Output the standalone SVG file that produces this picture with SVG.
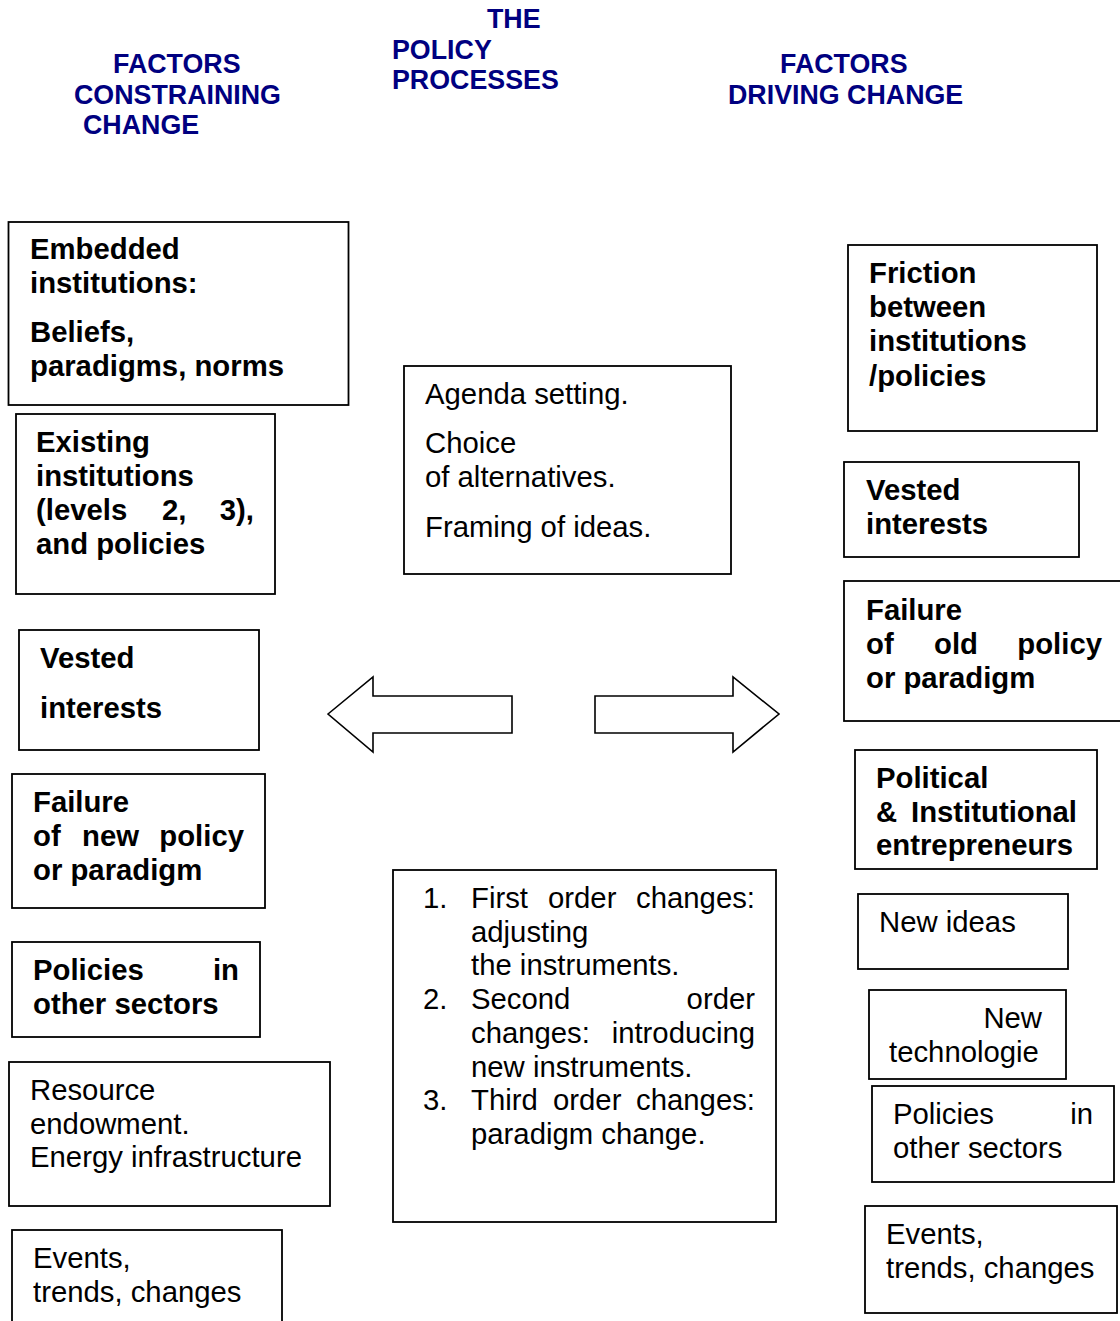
<svg xmlns="http://www.w3.org/2000/svg" width="1120" height="1321" viewBox="0 0 1120 1321">
<style>
.box{fill:#fff;stroke:#000;stroke-width:1.8}
.arr{fill:#fff;stroke:#000;stroke-width:1.6}
.h{font-family:"Liberation Sans",Arial,sans-serif;font-weight:bold;font-size:26.8px;fill:#000080}
.b{font-family:"Liberation Sans",Arial,sans-serif;font-weight:bold;font-size:29.3px;fill:#000}
.n{font-family:"Liberation Sans",Arial,sans-serif;font-size:29.3px;fill:#000}
</style>
<rect width="1120" height="1321" fill="#fff"/>
<g id="headers">
<text class="h" x="113" y="73">FACTORS</text>
<text class="h" x="74" y="104">CONSTRAINING</text>
<text class="h" x="83" y="134">CHANGE</text>
<text class="h" x="487" y="28">THE</text>
<text class="h" x="392" y="59">POLICY</text>
<text class="h" x="392" y="89">PROCESSES</text>
<text class="h" x="780" y="73">FACTORS</text>
<text class="h" x="728" y="104">DRIVING CHANGE</text>
</g>
<g id="connectors">
<polygon class="arr" points="328,714 373,677 373,696 512,696 512,733 373,733 373,752"/>
<polygon class="arr" points="595,696 733,696 733,677 779,714 733,752 733,733 595,733"/>
</g>
<g id="embedded">
<rect class="box" x="8.5" y="222" width="340" height="183"/>
<text class="b" x="30" y="259">Embedded</text>
<text class="b" x="30" y="293">institutions:</text>
<text class="b" x="30" y="342">Beliefs,</text>
<text class="b" x="30" y="376">paradigms, norms</text>
</g>
<g id="existing">
<rect class="box" x="16" y="414" width="259" height="180"/>
<text class="b" x="36" y="452">Existing</text>
<text class="b" x="36" y="486">institutions</text>
<text class="b" y="520"><tspan x="36">(levels</tspan><tspan x="162">2,</tspan><tspan x="254" text-anchor="end">3),</tspan></text>
<text class="b" x="36" y="554">and policies</text>
</g>
<g id="vested-left">
<rect class="box" x="19" y="630" width="240" height="120"/>
<text class="b" x="40" y="668">Vested</text>
<text class="b" x="40" y="718">interests</text>
</g>
<g id="failure-new">
<rect class="box" x="12" y="774" width="253" height="134"/>
<text class="b" x="33" y="812">Failure</text>
<text class="b" y="846"><tspan x="33">of</tspan><tspan x="82">new</tspan><tspan x="244" text-anchor="end">policy</tspan></text>
<text class="b" x="33" y="880">or paradigm</text>
</g>
<g id="policies-left">
<rect class="box" x="12" y="942" width="248" height="95"/>
<text class="b" y="980"><tspan x="33">Policies</tspan><tspan x="239" text-anchor="end">in</tspan></text>
<text class="b" x="33" y="1014">other sectors</text>
</g>
<g id="resource">
<rect class="box" x="9" y="1062" width="321" height="144"/>
<text class="n" x="30" y="1100">Resource</text>
<text class="n" x="30" y="1134">endowment.</text>
<text class="n" x="30" y="1167">Energy infrastructure</text>
</g>
<g id="events-left">
<rect class="box" x="12" y="1230" width="270" height="100"/>
<text class="n" x="33" y="1268">Events,</text>
<text class="n" x="33" y="1302">trends, changes</text>
</g>
<g id="agenda">
<rect class="box" x="404" y="366" width="327" height="208"/>
<text class="n" x="425" y="404">Agenda setting.</text>
<text class="n" x="425" y="453">Choice</text>
<text class="n" x="425" y="487">of alternatives.</text>
<text class="n" x="425" y="537">Framing of ideas.</text>
</g>
<g id="orders">
<rect class="box" x="393" y="870" width="383" height="352"/>
<text class="n" x="423" y="908">1.</text>
<text class="n" y="908"><tspan x="471">First</tspan><tspan x="548">order</tspan><tspan x="755" text-anchor="end">changes:</tspan></text>
<text class="n" x="471" y="942">adjusting</text>
<text class="n" x="471" y="975">the instruments.</text>
<text class="n" x="423" y="1009">2.</text>
<text class="n" y="1009"><tspan x="471">Second</tspan><tspan x="755" text-anchor="end">order</tspan></text>
<text class="n" y="1043"><tspan x="471">changes:</tspan><tspan x="755" text-anchor="end">introducing</tspan></text>
<text class="n" x="471" y="1077">new instruments.</text>
<text class="n" x="423" y="1110">3.</text>
<text class="n" y="1110"><tspan x="471">Third</tspan><tspan x="553">order</tspan><tspan x="755" text-anchor="end">changes:</tspan></text>
<text class="n" x="471" y="1144">paradigm change.</text>
</g>
<g id="friction">
<rect class="box" x="848" y="245" width="249" height="186"/>
<text class="b" x="869" y="283">Friction</text>
<text class="b" x="869" y="317">between</text>
<text class="b" x="869" y="351">institutions</text>
<text class="b" x="869" y="386">/policies</text>
</g>
<g id="vested-right">
<rect class="box" x="844" y="462" width="235" height="95"/>
<text class="b" x="866" y="500">Vested</text>
<text class="b" x="866" y="534">interests</text>
</g>
<g id="failure-old">
<rect class="box" x="844" y="581" width="280" height="140"/>
<text class="b" x="866" y="620">Failure</text>
<text class="b" y="654"><tspan x="866">of</tspan><tspan x="934">old</tspan><tspan x="1102" text-anchor="end">policy</tspan></text>
<text class="b" x="866" y="688">or paradigm</text>
</g>
<g id="political">
<rect class="box" x="855" y="750" width="242" height="119"/>
<text class="b" x="876" y="788">Political</text>
<text class="b" y="822"><tspan x="876">&amp;</tspan><tspan x="911">Institutional</tspan></text>
<text class="b" x="876" y="855">entrepreneurs</text>
</g>
<g id="new-ideas">
<rect class="box" x="858" y="894" width="210" height="75"/>
<text class="n" x="879" y="932">New ideas</text>
</g>
<g id="new-tech">
<rect class="box" x="869" y="990" width="197" height="89"/>
<text class="n" x="1042" y="1028" text-anchor="end">New</text>
<text class="n" x="889" y="1062">technologie</text>
</g>
<g id="policies-right">
<rect class="box" x="872" y="1086" width="242" height="96"/>
<text class="n" y="1124"><tspan x="893">Policies</tspan><tspan x="1093" text-anchor="end">in</tspan></text>
<text class="n" x="893" y="1158">other sectors</text>
</g>
<g id="events-right">
<rect class="box" x="865" y="1206" width="252" height="107"/>
<text class="n" x="886" y="1244">Events,</text>
<text class="n" x="886" y="1278">trends, changes</text>
</g>
</svg>
